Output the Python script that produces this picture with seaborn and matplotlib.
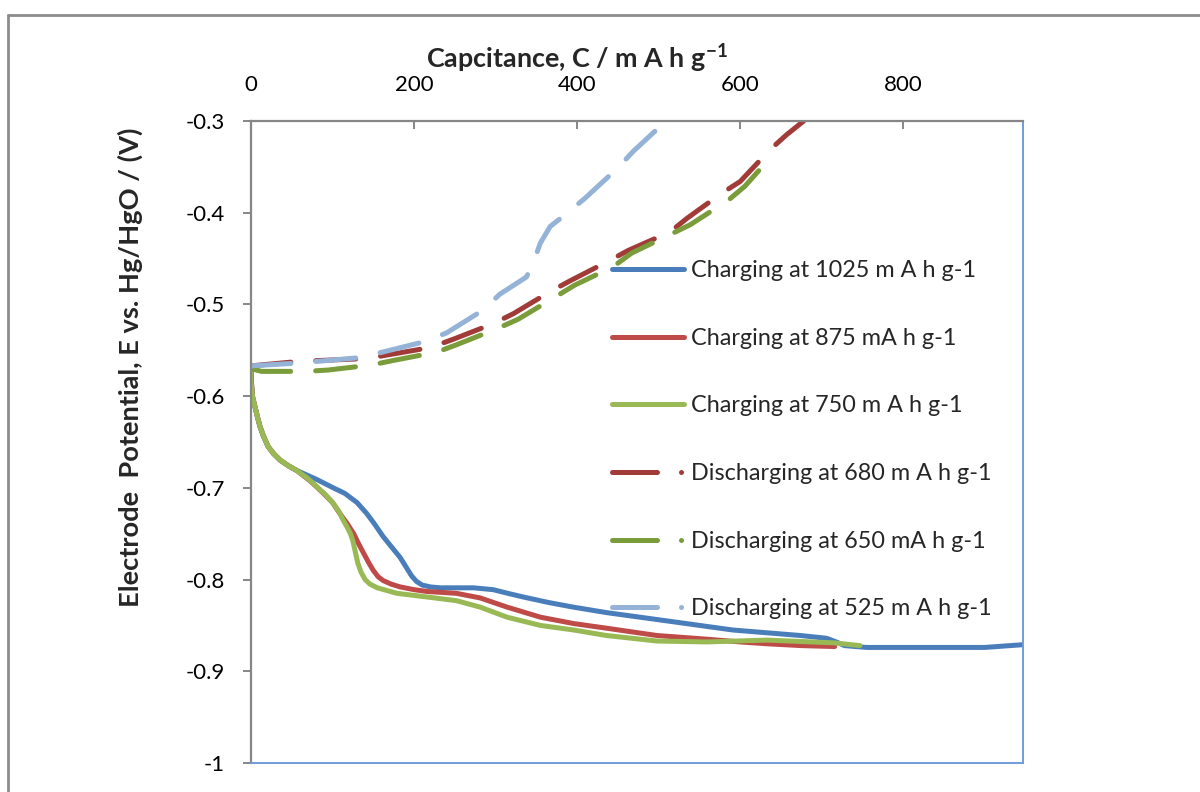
import matplotlib
matplotlib.use("Agg")
import matplotlib.pyplot as plt
from matplotlib.lines import Line2D
from matplotlib.ticker import FormatStrFormatter
import seaborn as sns
import pandas as pd

# Charging curves: capacity (mA h g-1) vs electrode potential (V vs Hg/HgO)
cap_chg_1025 = [0, 0.5, 2, 5, 8, 11, 15, 21, 28, 36, 46, 56, 81, 101, 115, 130, 142,
                152, 162, 172, 183, 190, 197, 203, 210, 220, 232, 273, 297, 315, 334,
                365, 395, 436, 477, 526, 591, 674, 706, 718, 728, 755, 837, 900, 947]
e_chg_1025 = [-0.568, -0.585, -0.601, -0.612, -0.623, -0.633, -0.643, -0.655, -0.663,
              -0.670, -0.676, -0.681, -0.691, -0.700, -0.706, -0.716, -0.728, -0.740,
              -0.753, -0.764, -0.776, -0.786, -0.796, -0.802, -0.806, -0.808, -0.809,
              -0.809, -0.811, -0.815, -0.819, -0.825, -0.830, -0.836, -0.841, -0.847,
              -0.855, -0.861, -0.864, -0.868, -0.872, -0.874, -0.874, -0.874, -0.871]

cap_chg_875 = [0, 0.5, 2, 5, 8, 11, 15, 21, 28, 36, 46, 56, 72, 89, 100, 109, 118, 126,
               132, 138, 144, 150, 156, 162, 172, 183, 200, 216, 252, 281, 314, 355, 396,
               436, 498, 559, 600, 633, 675, 716]
e_chg_875 = [-0.568, -0.585, -0.601, -0.612, -0.623, -0.633, -0.643, -0.655, -0.663,
             -0.670, -0.676, -0.681, -0.692, -0.706, -0.716, -0.728, -0.739, -0.750,
             -0.761, -0.771, -0.781, -0.790, -0.797, -0.801, -0.805, -0.808, -0.811,
             -0.813, -0.815, -0.820, -0.830, -0.841, -0.848, -0.853, -0.861, -0.865,
             -0.868, -0.870, -0.872, -0.873]

cap_chg_750 = [0, 0, 2, 5, 8, 11, 15, 21, 28, 36, 46, 56, 70, 81, 92, 101, 108, 113, 118,
               122, 125, 128, 131, 135, 140, 146, 155, 167, 179, 216, 252, 281, 314, 355,
               396, 436, 498, 559, 633, 715, 747]
e_chg_750 = [-0.568, -0.585, -0.601, -0.612, -0.623, -0.633, -0.643, -0.655, -0.663,
             -0.670, -0.676, -0.681, -0.690, -0.699, -0.708, -0.717, -0.726, -0.735,
             -0.743, -0.750, -0.758, -0.770, -0.782, -0.792, -0.800, -0.805, -0.809,
             -0.812, -0.815, -0.819, -0.823, -0.830, -0.841, -0.850, -0.855, -0.861,
             -0.867, -0.868, -0.866, -0.869, -0.872]

# Discharging curves
cap_dis_680 = [0, 60, 142, 220, 248, 297, 322, 367, 392, 438, 463, 514, 535, 577, 600,
               637, 657, 678]
e_dis_680 = [-0.567, -0.562, -0.559, -0.547, -0.538, -0.521, -0.510, -0.486, -0.474,
             -0.453, -0.441, -0.421, -0.406, -0.379, -0.366, -0.331, -0.315, -0.300]

cap_dis_650 = [0, 13, 68, 95, 148, 175, 228, 252, 303, 328, 373, 397, 444, 467, 516,
               539, 586, 606, 641]
e_dis_650 = [-0.570, -0.573, -0.573, -0.5715, -0.566, -0.561, -0.552, -0.544, -0.526,
             -0.516, -0.492, -0.479, -0.459, -0.444, -0.423, -0.413, -0.386, -0.371,
             -0.336]

cap_dis_525 = [0, 56, 134, 211, 240, 285, 305, 338, 346, 355, 367, 387, 410, 449, 469, 509]
e_dis_525 = [-0.567, -0.564, -0.558, -0.541, -0.531, -0.506, -0.489, -0.470, -0.455,
             -0.433, -0.415, -0.401, -0.384, -0.352, -0.333, -0.300]

labels = ["Charging at 1025 m A h g-1",
          "Charging at 875 mA h g-1",
          "Charging at 750 m A h g-1",
          "Discharging at 680 m A h g-1",
          "Discharging at 650 mA h g-1",
          "Discharging at 525 m A h g-1"]

x_ticks = [0, 200, 400, 600, 800]
y_ticks = [-1, -0.9, -0.8, -0.7, -0.6, -0.5, -0.4, -0.3]

series = [
    (cap_chg_1025, e_chg_1025, "#4A7EBB", False),
    (cap_chg_875, e_chg_875, "#BE4B48", False),
    (cap_chg_750, e_chg_750, "#98B954", False),
    (cap_dis_680, e_dis_680, "#A03B38", True),
    (cap_dis_650, e_dis_650, "#7A9C3B", True),
    (cap_dis_525, e_dis_525, "#95B3D7", True),
]

sns.set_theme(style="white")
plt.rcParams["font.family"] = ["Lato", "DejaVu Sans"]
plt.rcParams["axes.unicode_minus"] = False
plt.rcParams["mathtext.fontset"] = "custom"
plt.rcParams["mathtext.rm"] = "Lato"
plt.rcParams["mathtext.bf"] = "Lato:bold"

fig = plt.figure(figsize=(12, 7.92), dpi=100)
ax = fig.add_axes([251 / 1200, 1 - 763 / 792, 772 / 1200, 642 / 792])

LW = 3.6
DASH = (8, 5)
handles = []
for (xs, ys, color, dashed), lab in zip(series, labels):
    df = pd.DataFrame({"cap": xs, "E": ys})
    sns.lineplot(data=df, x="cap", y="E", ax=ax, color=color, lw=LW,
                 sort=False, estimator=None, legend=False)
    line = ax.lines[-1]
    line.set_solid_capstyle("round")
    line.set_solid_joinstyle("round")
    line.set_dash_capstyle("round")
    if dashed:
        line.set_dashes(DASH)
        h = Line2D([], [], color=color, lw=LW, dash_capstyle="round",
                   dashes=(9.0, 4.8, 0.01, 100))
    else:
        h = Line2D([], [], color=color, lw=LW, solid_capstyle="round")
    handles.append(h)

ax.set_xlim(0, 947)
ax.set_ylim(-1, -0.3)
ax.set_xticks(x_ticks)
ax.set_yticks(y_ticks)
ax.yaxis.set_major_formatter(FormatStrFormatter("%g"))
ax.xaxis.tick_top()
ax.xaxis.set_label_position("top")

grey = "#868686"
blue_edge = "#6F9CD8"
for s in ("left", "top"):
    ax.spines[s].set_color(grey)
    ax.spines[s].set_linewidth(1.6)
for s in ("right", "bottom"):
    ax.spines[s].set_color(blue_edge)
    ax.spines[s].set_linewidth(1.4)

ax.tick_params(axis="x", which="major", top=True, bottom=False, direction="in",
               length=6, width=1.4, color=grey, pad=19, labelsize=16, labelcolor="black")
ax.tick_params(axis="y", which="major", left=True, right=False, direction="out",
               length=6, width=1.4, color=grey, pad=13, labelsize=16, labelcolor="black")

ax.set_xlabel(r"Capcitance, C / m A h g$^{\mathbf{-1}}$", fontsize=19.4,
              fontweight="bold")
ax.xaxis.set_label_coords(0.422, 1.0 + 46 / 642)
ax.xaxis.label.set_verticalalignment("bottom")
ax.set_ylabel("Electrode  Potential, E vs. Hg/HgO / (V)", fontsize=19.6,
              fontweight="bold")
ax.yaxis.set_label_coords(-(251 - 130) / 772, (763 - 367) / 642)
ax.yaxis.label.set_verticalalignment("center")

ax.legend(handles, labels, loc="upper left", bbox_to_anchor=(612 / 1200, 1 - 260 / 792),
          bbox_transform=fig.transFigure, frameon=False, fontsize=16.8,
          handlelength=3.1, handletextpad=0.28, labelspacing=2.0,
          borderpad=0, borderaxespad=0)

# outer chart-area frame
fig.add_artist(Line2D([8 / 1200, 8 / 1200], [0, 1 - 15 / 792], transform=fig.transFigure,
                      color="#8C8C8C", lw=2))
fig.add_artist(Line2D([8 / 1200, 1], [1 - 15 / 792, 1 - 15 / 792],
                      transform=fig.transFigure, color="#8C8C8C", lw=2))

fig.savefig("out.png", dpi=100)
